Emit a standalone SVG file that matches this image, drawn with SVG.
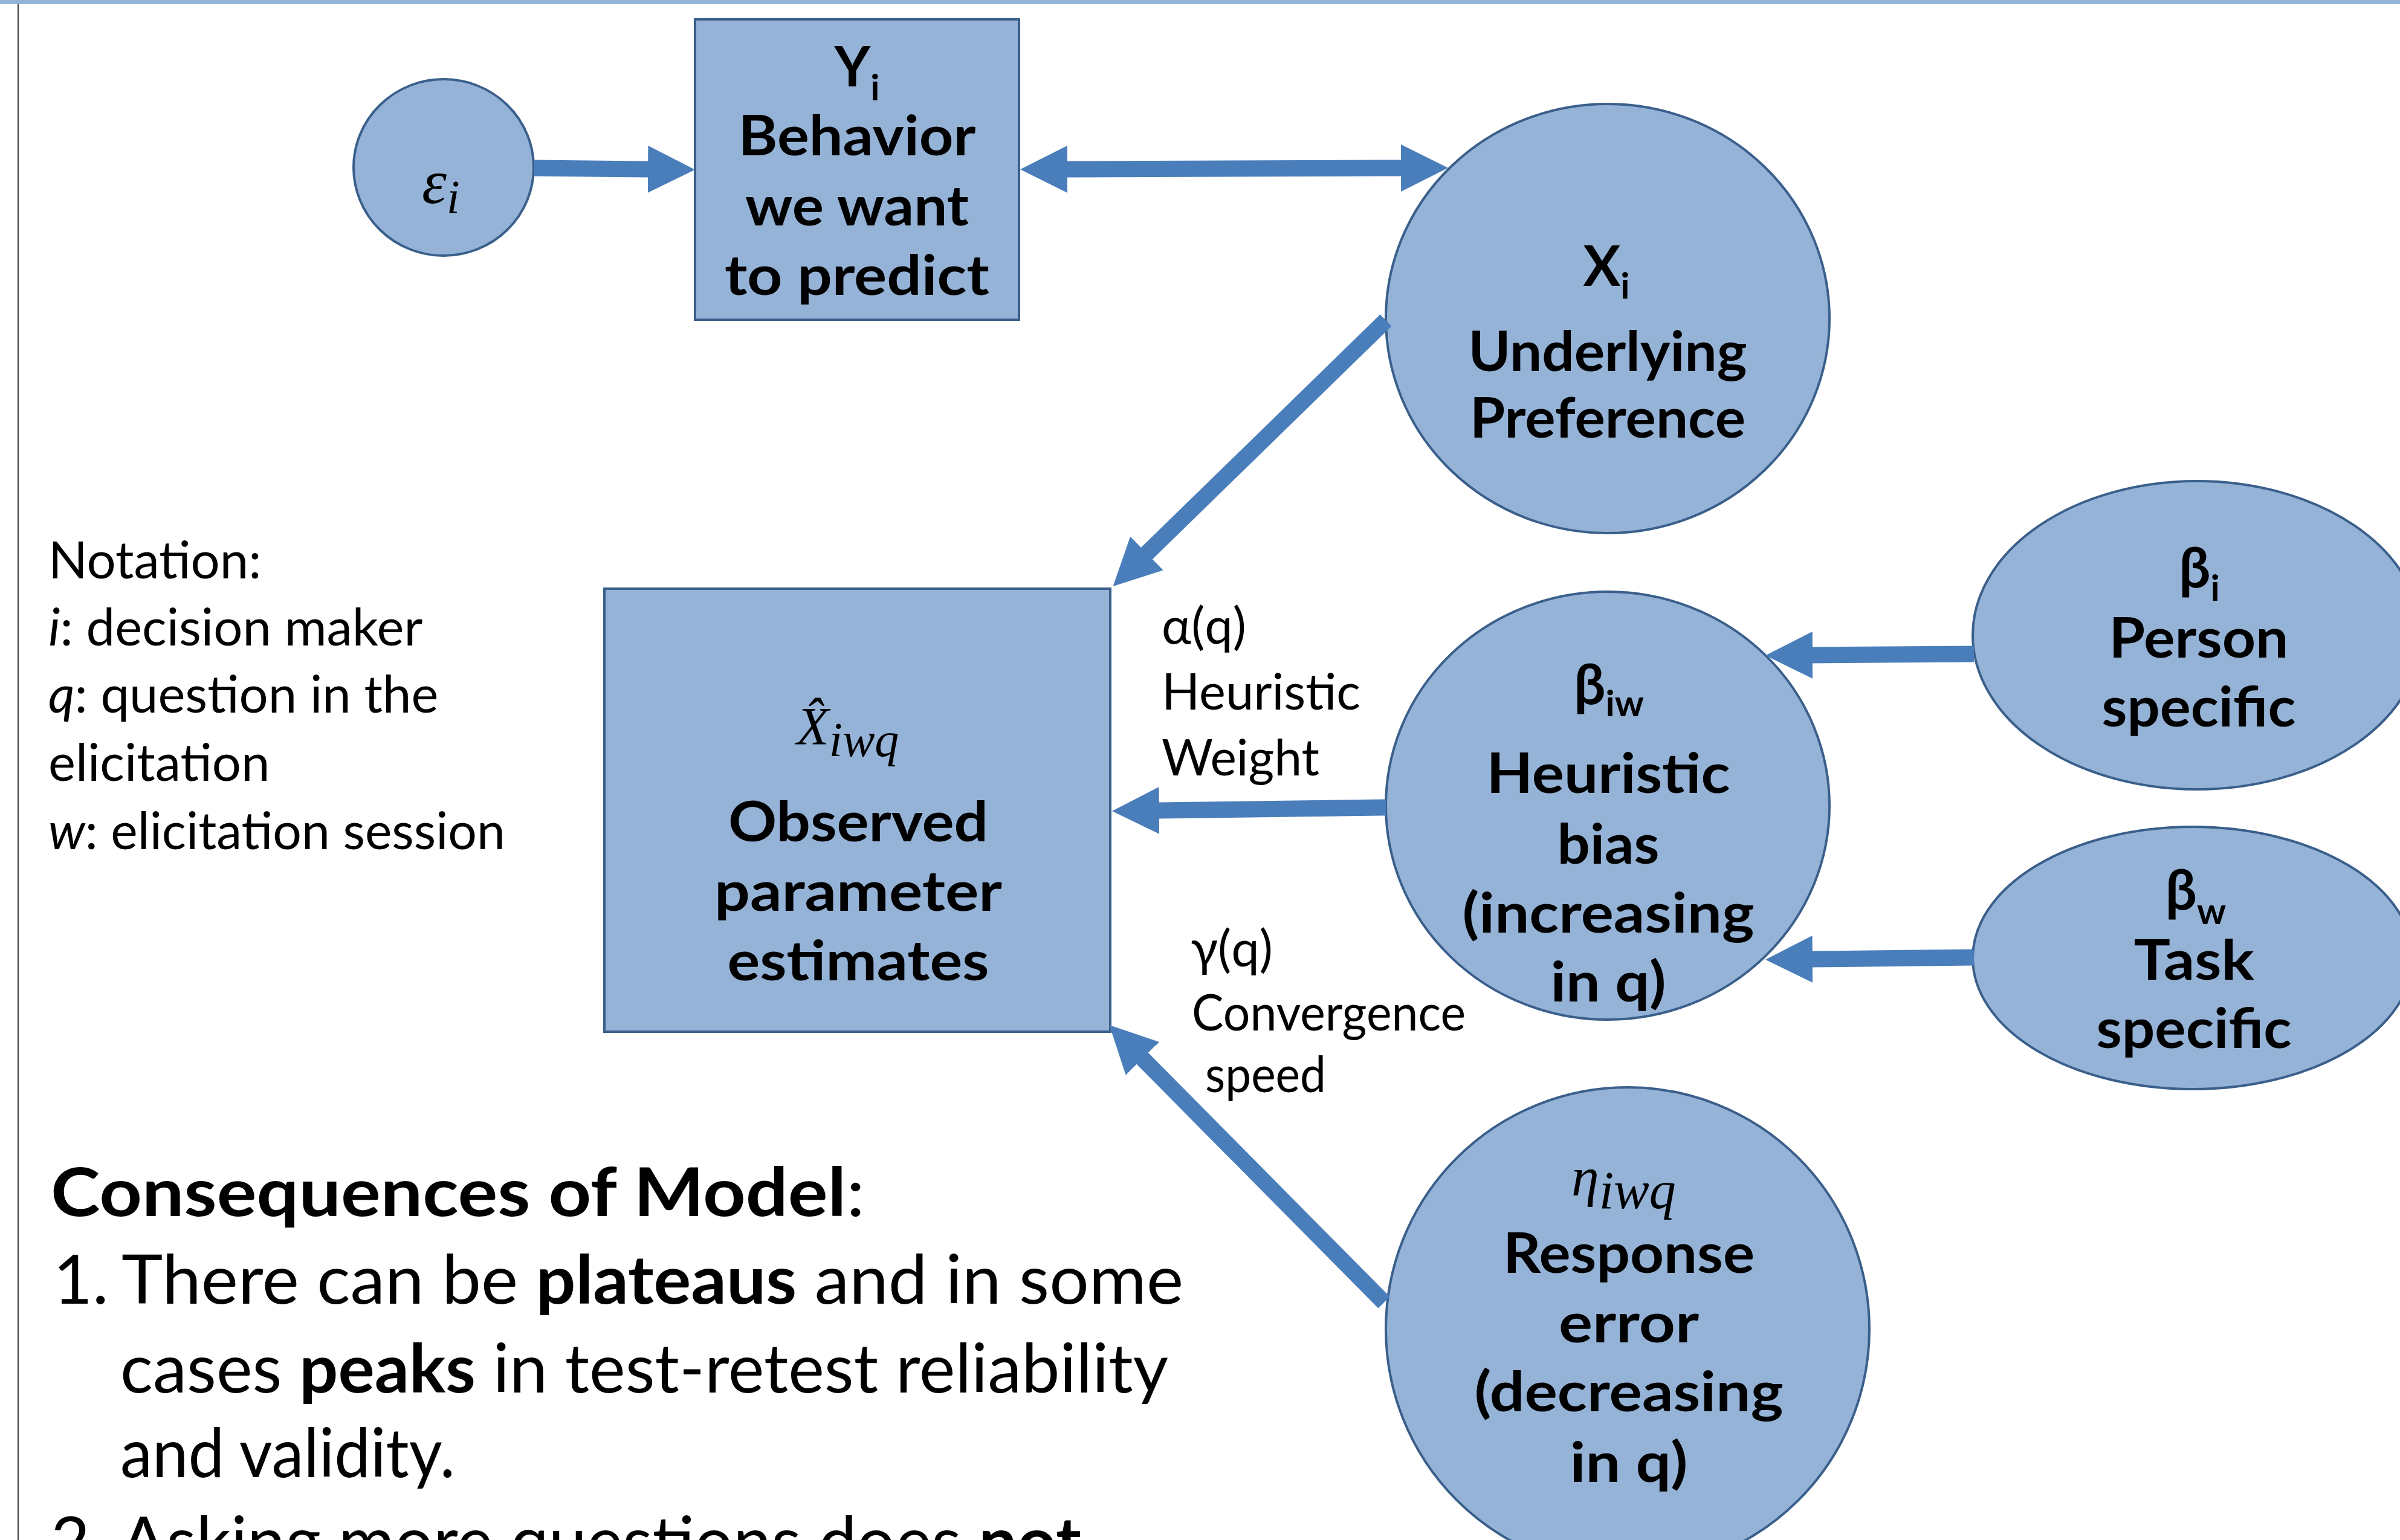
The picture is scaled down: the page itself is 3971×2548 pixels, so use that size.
<svg xmlns="http://www.w3.org/2000/svg" width="3971" height="2548" viewBox="0 0 3971 2548">
<defs>
<style>
.node{fill:#95B3D7;stroke:#3A5F8B;stroke-width:4}
.conn{stroke:#4A7EBB;stroke-width:27;fill:none}
.nb{font-family:Lato,"Open Sans","DejaVu Sans",sans-serif;font-weight:bold;font-size:92px;fill:#000;text-anchor:middle}
.t{font-family:Lato,"Open Sans","DejaVu Sans",sans-serif;font-size:85px;fill:#000}
.lb{font-family:Lato,"Open Sans","DejaVu Sans",sans-serif;font-size:83px;fill:#000}
.big{font-family:Lato,"Open Sans","DejaVu Sans",sans-serif;font-size:112px;fill:#000}
.m{font-family:"Liberation Serif","DejaVu Serif",serif;font-style:italic;fill:#000}
.b{font-weight:bold}
</style>
<marker id="ah" markerUnits="userSpaceOnUse" markerWidth="80" markerHeight="80" viewBox="0 0 80 80" refX="2" refY="40" orient="auto-start-reverse">
<path d="M0,1 L78,40 L0,79 z" fill="#4A7EBB"/>
</marker>
</defs>
<rect x="0" y="0" width="3971" height="7" fill="#95B3D7"/>
<line x1="30" y1="7" x2="30" y2="2548" stroke="#404040" stroke-width="2"/>

<g id="node-eps">
<ellipse class="node" cx="734" cy="277" rx="149" ry="146"/>
<text class="m" x="698" y="336" font-size="104">ε<tspan font-size="78" dy="16">i</tspan></text>
</g>

<g id="node-Y">
<rect class="node" x="1150" y="32" width="536" height="497"/>
<text class="nb" x="1418" y="143">Y<tspan font-size="60" dy="23">i</tspan></text>
<text class="nb" x="1418" y="257" textLength="393" lengthAdjust="spacingAndGlyphs">Behavior</text>
<text class="nb" x="1418" y="373" textLength="370" lengthAdjust="spacingAndGlyphs">we want</text>
<text class="nb" x="1418" y="488" textLength="438" lengthAdjust="spacingAndGlyphs">to predict</text>
</g>

<g id="node-X">
<ellipse class="node" cx="2660" cy="527" rx="367" ry="355"/>
<text class="nb" x="2658" y="473">X<tspan font-size="60" dy="21">i</tspan></text>
<text class="nb" x="2660" y="614" textLength="461" lengthAdjust="spacingAndGlyphs">Underlying</text>
<text class="nb" x="2660" y="724" textLength="456" lengthAdjust="spacingAndGlyphs">Preference</text>
</g>

<g id="node-Xhat">
<rect class="node" x="1000" y="974" width="837" height="733"/>
<text class="m" x="1318" y="1231" font-size="88">X̂<tspan font-size="80" dy="20">iwq</tspan></text>
<text class="nb" x="1420" y="1392" textLength="430" lengthAdjust="spacingAndGlyphs">Observed</text>
<text class="nb" x="1420" y="1507" textLength="476" lengthAdjust="spacingAndGlyphs">parameter</text>
<text class="nb" x="1420" y="1622" textLength="433" lengthAdjust="spacingAndGlyphs">estimates</text>
</g>

<g id="node-hb">
<ellipse class="node" cx="2660" cy="1333" rx="367" ry="354"/>
<text class="nb" x="2662" y="1165">β<tspan font-size="60" dy="20">iw</tspan></text>
<text class="nb" x="2661" y="1312" textLength="403" lengthAdjust="spacingAndGlyphs">Heuristic</text>
<text class="nb" x="2661" y="1429" textLength="169" lengthAdjust="spacingAndGlyphs">bias</text>
<text class="nb" x="2661" y="1543" textLength="483" lengthAdjust="spacingAndGlyphs">(increasing</text>
<text class="nb" x="2661" y="1657" textLength="191" lengthAdjust="spacingAndGlyphs">in q)</text>
</g>

<g id="node-bi">
<ellipse class="node" cx="3635" cy="1051" rx="371" ry="255"/>
<text class="nb" x="3639" y="972">β<tspan font-size="60" dy="22">i</tspan></text>
<text class="nb" x="3638" y="1088" textLength="297" lengthAdjust="spacingAndGlyphs">Person</text>
<text class="nb" x="3638" y="1202" textLength="321" lengthAdjust="spacingAndGlyphs">specific</text>
</g>

<g id="node-bw">
<ellipse class="node" cx="3628" cy="1585" rx="364" ry="217"/>
<text class="nb" x="3633" y="1505">β<tspan font-size="60" dy="24">w</tspan></text>
<text class="nb" x="3630" y="1621" textLength="199" lengthAdjust="spacingAndGlyphs">Task</text>
<text class="nb" x="3630" y="1734" textLength="323" lengthAdjust="spacingAndGlyphs">specific</text>
</g>

<g id="node-eta">
<ellipse class="node" cx="2693" cy="2199" rx="400" ry="400"/>
<text class="m" x="2600" y="1978" font-size="92">η<tspan font-size="88" dy="21">iwq</tspan></text>
<text class="nb" x="2695" y="2106" textLength="416" lengthAdjust="spacingAndGlyphs">Response</text>
<text class="nb" x="2695" y="2221" textLength="232" lengthAdjust="spacingAndGlyphs">error</text>
<text class="nb" x="2695" y="2335" textLength="511" lengthAdjust="spacingAndGlyphs">(decreasing</text>
<text class="nb" x="2695" y="2452" textLength="195" lengthAdjust="spacingAndGlyphs">in q)</text>
</g>

<g id="connectors">
<line class="conn" x1="884" y1="278" x2="1074" y2="280" marker-end="url(#ah)"/>
<line class="conn" x1="1764" y1="280" x2="2320" y2="278" marker-start="url(#ah)" marker-end="url(#ah)"/>
<line class="conn" x1="2293" y1="530" x2="1896" y2="917" marker-end="url(#ah)"/>
<line class="conn" x1="2293" y1="1336" x2="1916" y2="1341" marker-end="url(#ah)"/>
<line class="conn" x1="2290" y1="2155" x2="1889" y2="1750" marker-end="url(#ah)"/>
<line class="conn" x1="3266" y1="1082" x2="2997" y2="1084" marker-end="url(#ah)"/>
<line class="conn" x1="3266" y1="1584" x2="2997" y2="1587" marker-end="url(#ah)"/>
</g>

<g id="edge-labels">
<text class="lb" x="1922" y="1065">α(q)</text>
<text class="lb" x="1922" y="1174" textLength="329" lengthAdjust="spacingAndGlyphs">Heuristic</text>
<text class="lb" x="1922" y="1283" textLength="261" lengthAdjust="spacingAndGlyphs">Weight</text>
<text class="lb" x="1970" y="1599">γ(q)</text>
<text class="lb" x="1972" y="1705" textLength="453" lengthAdjust="spacingAndGlyphs">Convergence</text>
<text class="lb" x="1994" y="1807" textLength="200" lengthAdjust="spacingAndGlyphs">speed</text>
</g>

<g id="notation">
<text class="t" x="80" y="957">Notation:</text>
<text class="t" x="80" y="1068"><tspan font-style="italic">i</tspan>: decision maker</text>
<text class="t" x="80" y="1179"><tspan font-style="italic">q</tspan>: question in the</text>
<text class="t" x="80" y="1292">elicitation</text>
<text class="t" x="80" y="1405" textLength="756" lengthAdjust="spacingAndGlyphs"><tspan font-style="italic">w</tspan>: elicitation session</text>
</g>

<g id="consequences">
<text class="big" x="84" y="2012" textLength="1347" lengthAdjust="spacingAndGlyphs"><tspan class="b">Consequences of Model</tspan>:</text>
<text class="big" x="88" y="2157">1.</text>
<text class="big" x="201" y="2157" textLength="1757" lengthAdjust="spacingAndGlyphs">There can be <tspan class="b">plateaus</tspan> and in some</text>
<text class="big" x="199" y="2304" textLength="1734" lengthAdjust="spacingAndGlyphs">cases <tspan class="b">peaks</tspan> in test-retest reliability</text>
<text class="big" x="199" y="2444" textLength="554" lengthAdjust="spacingAndGlyphs">and validity.</text>
<text class="big" x="84" y="2590">2.</text>
<text class="big" x="199" y="2590" textLength="1590" lengthAdjust="spacingAndGlyphs">Asking more questions does <tspan class="b">not</tspan></text>
</g>
</svg>
